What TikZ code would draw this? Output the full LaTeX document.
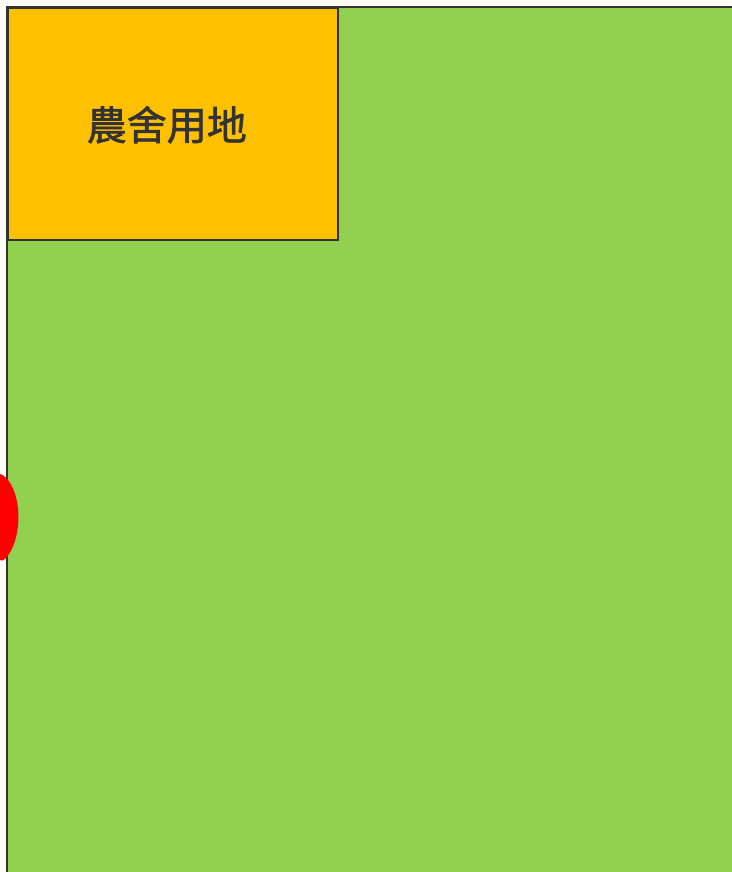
\documentclass[tikz,border=0pt]{standalone}
\usepackage{fontspec}
\newfontfamily\cjk[FakeBold=1.6]{Noto Sans CJK TC}
\definecolor{bgcream}{HTML}{FDFDF6}
\definecolor{fieldgreen}{HTML}{92D050}
\definecolor{lotorange}{HTML}{FFC000}
\definecolor{edgegray}{HTML}{333333}
\definecolor{markred}{HTML}{FF0000}
\tikzset{
  plot/.style={draw=edgegray, line width=1.6pt},
  lot/.style={plot, fill=lotorange, inner sep=0pt, anchor=north west,
    minimum width=330pt, minimum height=232pt},
  lotname/.style={inner sep=0pt, font=\cjk\fontsize{40}{44}\selectfont,
    text=edgegray},
}
\begin{document}
\begin{tikzpicture}[x=1pt, y=-1pt]
	\fill[bgcream] (0,0) rectangle (731,872);
	\useasboundingbox (0,0) rectangle (731,872);
	% farmland
	\path[plot, fill=fieldgreen] (7,7) rectangle (745,885);
	% farmhouse lot
	\node[lot] (farmhouse) at (7,7) {};
	\node[lotname] (farmhouselabel) at ([xshift=-6pt, yshift=-1pt]farmhouse.center) {農舍用地};
	% red mark on the west edge
	\fill[markred] (0,474) .. controls (8,476) and (16,490) .. (18,508)
		.. controls (20,528) and (15,548) .. (6,558)
		.. controls (3,561) and (1,561) .. (0,560) -- cycle;
\end{tikzpicture}
\end{document}
